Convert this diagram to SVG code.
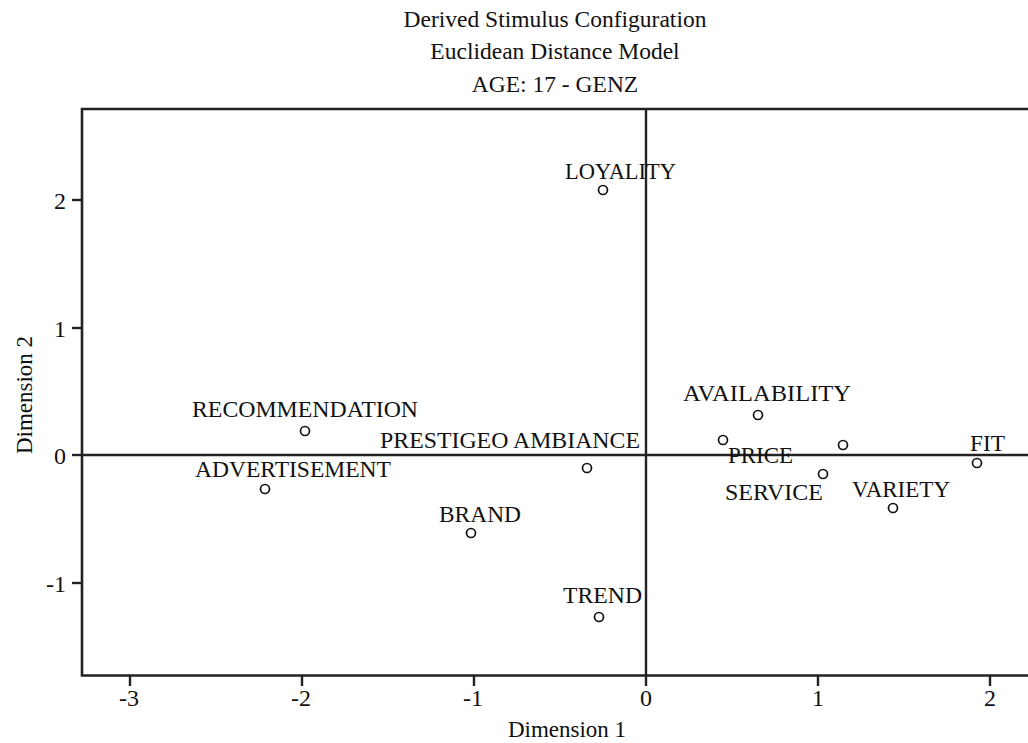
<svg xmlns="http://www.w3.org/2000/svg" width="1028" height="743" viewBox="0 0 1028 743">
<style>
text{font-family:"Liberation Serif","Times New Roman",serif;fill:#111;}
.title{font-size:23.5px;text-anchor:middle;}
.lab{font-size:23.5px;text-anchor:middle;}
.tick{font-size:24px;}
.axt{font-size:23px;text-anchor:middle;}
.frame{fill:none;stroke:#222;stroke-width:2.6;}
.ref{stroke:#222;stroke-width:2.4;}
.tk{stroke:#222;stroke-width:2.4;}
.pt{fill:#fff;stroke:#111;stroke-width:1.7;}
</style>
<rect width="1028" height="743" fill="#fff"/>
<g id="title">
<text class="title" x="555" y="27">Derived Stimulus Configuration</text>
<text class="title" x="555" y="59">Euclidean Distance Model</text>
<text class="title" x="555" y="92">AGE: 17 - GENZ</text>
</g>
<g id="axes">
<path class="frame" d="M1040 109 H82 V675.5 H1040"/>
<line class="tk" x1="72" y1="200" x2="82" y2="200"/>
<line class="tk" x1="72" y1="328" x2="82" y2="328"/>
<line class="tk" x1="72" y1="455" x2="82" y2="455"/>
<line class="tk" x1="72" y1="583" x2="82" y2="583"/>
<line class="tk" x1="130" y1="676" x2="130" y2="686"/>
<line class="tk" x1="302" y1="676" x2="302" y2="686"/>
<line class="tk" x1="474" y1="676" x2="474" y2="686"/>
<line class="tk" x1="646" y1="676" x2="646" y2="686"/>
<line class="tk" x1="818" y1="676" x2="818" y2="686"/>
<line class="tk" x1="990" y1="676" x2="990" y2="686"/>
<text class="tick" x="66" y="209" text-anchor="end">2</text>
<text class="tick" x="66" y="337" text-anchor="end">1</text>
<text class="tick" x="66" y="464" text-anchor="end">0</text>
<text class="tick" x="66" y="592" text-anchor="end">-1</text>
<text class="tick" x="129" y="706" text-anchor="middle">-3</text>
<text class="tick" x="301" y="706" text-anchor="middle">-2</text>
<text class="tick" x="473" y="706" text-anchor="middle">-1</text>
<text class="tick" x="646" y="706" text-anchor="middle">0</text>
<text class="tick" x="818" y="706" text-anchor="middle">1</text>
<text class="tick" x="990" y="706" text-anchor="middle">2</text>
<text class="axt" x="567" y="737">Dimension 1</text>
<text class="axt" transform="translate(32 395) rotate(-90)" x="0" y="0">Dimension 2</text>
</g>
<g id="connectors">
<line class="ref" x1="646" y1="109" x2="646" y2="675"/>
<line class="ref" x1="82" y1="455" x2="1028" y2="455"/>
</g>
<g id="node-loyality"><circle class="pt" cx="603" cy="190" r="4.5"/><text class="lab" x="620.5" y="179" textLength="111" lengthAdjust="spacingAndGlyphs">LOYALITY</text></g>
<g id="node-recommendation"><circle class="pt" cx="305" cy="431" r="4.5"/><text class="lab" x="305" y="417" textLength="226" lengthAdjust="spacingAndGlyphs">RECOMMENDATION</text></g>
<g id="node-advertisement"><circle class="pt" cx="265" cy="489" r="4.5"/><text class="lab" x="293" y="477" textLength="196" lengthAdjust="spacingAndGlyphs">ADVERTISEMENT</text></g>
<g id="node-prestigeo"><circle class="pt" cx="587" cy="468" r="4.5"/><text class="lab" x="510" y="448" textLength="260" lengthAdjust="spacingAndGlyphs">PRESTIGEO AMBIANCE</text></g>
<g id="node-availability"><circle class="pt" cx="758" cy="415" r="4.5"/><text class="lab" x="767" y="401" textLength="168" lengthAdjust="spacingAndGlyphs">AVAILABILITY</text></g>
<g id="node-price"><circle class="pt" cx="723" cy="440" r="4.5"/><text class="lab" x="760.5" y="463" textLength="65" lengthAdjust="spacingAndGlyphs">PRICE</text></g>
<g id="node-p3"><circle class="pt" cx="843" cy="445" r="4.5"/></g>
<g id="node-service"><circle class="pt" cx="823" cy="474" r="4.5"/><text class="lab" x="774" y="500" textLength="98" lengthAdjust="spacingAndGlyphs">SERVICE</text></g>
<g id="node-variety"><circle class="pt" cx="893" cy="508" r="4.5"/><text class="lab" x="901" y="497" textLength="98" lengthAdjust="spacingAndGlyphs">VARIETY</text></g>
<g id="node-fit"><circle class="pt" cx="977" cy="463" r="4.5"/><text class="lab" x="987.5" y="451" textLength="35" lengthAdjust="spacingAndGlyphs">FIT</text></g>
<g id="node-brand"><circle class="pt" cx="471" cy="533" r="4.5"/><text class="lab" x="480" y="522" textLength="82" lengthAdjust="spacingAndGlyphs">BRAND</text></g>
<g id="node-trend"><circle class="pt" cx="599" cy="617" r="4.5"/><text class="lab" x="602.5" y="603" textLength="79" lengthAdjust="spacingAndGlyphs">TREND</text></g>
</svg>
